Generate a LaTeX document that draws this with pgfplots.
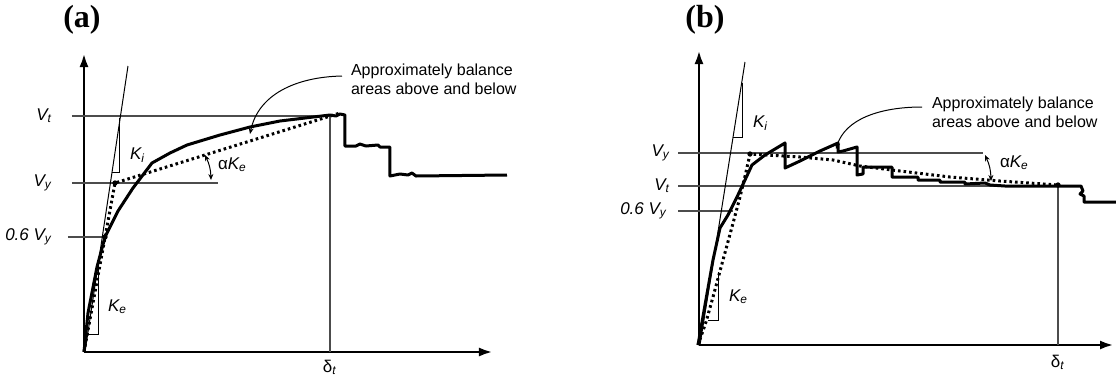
\documentclass[border=0pt]{standalone}
\usepackage{pgfplots}
\pgfplotsset{compat=1.18}
\usepackage{fontspec}
\setmainfont{Liberation Sans}
\newfontfamily\serifbold{Liberation Serif}
\usetikzlibrary{arrows.meta}

% one data unit = one pixel of the reference (y measured upwards)
\pgfplotsset{
  schem/.style={
    x=0.5pt, y=0.5pt, axis lines=left, enlargelimits=false,
    xtick=\empty, ytick=\empty, clip=false, anchor=south west,
    axis line style={line width=1.4pt, -{Latex[length=7pt,width=4.5pt]}},
  },
  guide/.style={black!70, line width=0.6pt, no marks},
  kline/.style={black, line width=0.5pt, no marks},
  resp/.style={black, line width=1.5pt, no marks, line join=round},
  bilin/.style={black, line width=1.5pt, no marks, dash pattern=on 1.3pt off 1.5pt},
}
\tikzset{
  lbl/.style={font=\fontsize{8.5}{10}\selectfont},
  note/.style={font=\fontsize{8}{9.5}\selectfont, anchor=west, align=left},
  panel/.style={font=\serifbold\bfseries\fontsize{16}{18}\selectfont},
  thinarr/.style={line width=0.5pt, -{Stealth[length=3pt,width=2.5pt]}},
  dblarr/.style={line width=0.5pt, {Stealth[length=3pt,width=2.5pt]}-{Stealth[length=3pt,width=2.5pt]}},
}

\begin{document}
\begin{tikzpicture}
\useasboundingbox (0,0) rectangle (558pt,188.5pt);

% ---------------- (a) ----------------
\begin{axis}[schem, at={(42pt,12.5pt)}, xmin=84, xmax=493, ymin=25, ymax=324]
\addplot[guide] coordinates {(72,261) (330,261)};
\addplot[guide] coordinates {(72,194) (218,194)};
\addplot[guide] coordinates {(68,140) (105,140)};
\addplot[guide] coordinates {(330,25) (330,261)};
\addplot[kline] coordinates {(85,25) (128,311)};
\addplot[kline] coordinates {(112,205) (119.5,205) (119.5,259)};
\addplot[kline] coordinates {(87,43) (99,43) (99,112)};
\addplot[bilin] coordinates {(84,25) (115,194) (340,264)};
\addplot[resp] coordinates {(84,25)(88,64)(97,110)(105,140)(118,166)(133,189)(152,214)
  (170,224)(187,232)(220,242)(250,250)(280,256)(305,259)(330,262)(336,261)(340,263)(345,262)
  (345,231)(356,231)(360,233)(366,231)(378,232)(380,230)(390,230)(390,201)(400,203)
  (408,202)(412,204)(416,201)(507,202)};
\addplot[black, only marks, mark=*, mark size=1.1pt] coordinates {(105,140) (115,194)};

\node[lbl, anchor=east] at (axis cs:59,261) {\textit{V\textsubscript{t}}};
\node[lbl, anchor=east] at (axis cs:59,194) {\textit{V\textsubscript{y}}};
\node[lbl, anchor=east] at (axis cs:59,140) {\textit{0.6 V\textsubscript{y}}};
\node[lbl, anchor=west] at (axis cs:123,222) {\textit{K\textsubscript{i}}};
\node[lbl, anchor=west] at (axis cs:101,70) {\textit{K\textsubscript{e}}};
\node[lbl, anchor=west] at (axis cs:211,212) {α\textit{K\textsubscript{e}}};
\node[lbl] at (axis cs:330,10) {δ\textsubscript{\textit{t}}};
\node[note] at (axis cs:344,298) {Approximately balance\\areas above and below};
\node[panel] at (axis cs:82,357) {(a)};
\draw[thinarr] (axis cs:342,301) .. controls (axis cs:295,300) and (axis cs:258,282) .. (axis cs:250,243);
\draw[dblarr] (axis cs:205,222) to[bend left=12] (axis cs:211,197);
\end{axis}

% ---------------- (b) ----------------
\begin{axis}[schem, at={(349.5pt,16pt)}, xmin=699, xmax=1114, ymin=32, ymax=327]
\addplot[guide] coordinates {(678,224) (983,224)};
\addplot[guide] coordinates {(678,191) (1058,191)};
\addplot[guide] coordinates {(678,166) (733,166)};
\addplot[guide] coordinates {(1058,32) (1058,191)};
\addplot[kline] coordinates {(700,32) (745,315)};
\addplot[kline] coordinates {(733,240) (742,240) (742,294)};
\addplot[kline] coordinates {(708,57) (718,57) (718,105)};
\addplot[bilin] coordinates {(698,32)(706,55)(713,80)(723,117)(732,150)(740,180)(746,205)
  (750,223)(800,220)(833,217)(860,211)(900,206)(950,200)(1000,196)(1058,192)};
\addplot[resp] coordinates {(698,32)(705,72)(713,117)(720,149)(728,162)(737,180)(745,197)
  (752,212)(765,222)(785,234)(785,209)(800,216)(820,226)(838,234)(838,225)(843,226)
  (857,230)(857,202)(863,203)(863,210)(892,210)(892,200)(918,200)(918,197)(940,197)
  (940,195)(965,195)(965,193)(985,194)(990,192)(1005,191)(1081,191)(1083,186)(1080,183)
  (1084,181)(1084,175)(1116,175)};
\addplot[black, only marks, mark=*, mark size=1.1pt] coordinates {(750,223) (1058,192)};

\node[lbl, anchor=east] at (axis cs:677,224) {\textit{V\textsubscript{y}}};
\node[lbl, anchor=east] at (axis cs:677,191) {\textit{V\textsubscript{t}}};
\node[lbl, anchor=east] at (axis cs:674,166) {\textit{0.6 V\textsubscript{y}}};
\node[lbl, anchor=west] at (axis cs:746,254) {\textit{K\textsubscript{i}}};
\node[lbl, anchor=west] at (axis cs:722,80) {\textit{K\textsubscript{e}}};
\node[lbl, anchor=west] at (axis cs:993,214) {α\textit{K\textsubscript{e}}};
\node[lbl] at (axis cs:1058,15) {δ\textsubscript{\textit{t}}};
\node[note] at (axis cs:925,265) {Approximately balance\\areas above and below};
\node[panel] at (axis cs:705,357) {(b)};
\draw[thinarr] (axis cs:922,270) .. controls (axis cs:880,270) and (axis cs:845,258) .. (axis cs:836,228);
\draw[dblarr] (axis cs:985,222) to[bend left=12] (axis cs:991,196);
\end{axis}
\end{tikzpicture}
\end{document}
